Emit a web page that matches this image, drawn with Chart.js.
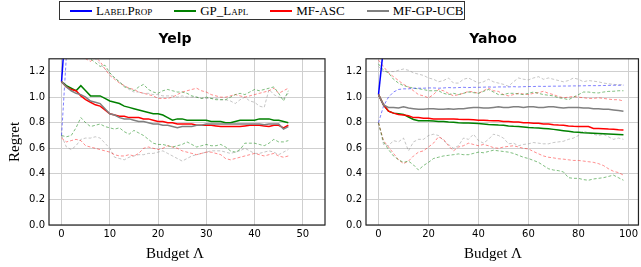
<!DOCTYPE html>
<html>
<head>
<meta charset="utf-8">
<script src="https://cdn.jsdelivr.net/npm/chart.js@4/dist/chart.umd.min.js"></script>
<style>
body{margin:0;background:#fff;width:641px;height:267px;overflow:hidden;position:relative}
canvas{position:absolute;top:0}
#graficoYelp{left:0}
#graficoYahoo{left:345px}
#legenda{position:absolute;left:59px;top:1px;width:406px;height:19px;box-sizing:border-box;border:1px solid #333;display:flex;align-items:center;padding-left:10px;font:13px 'Liberation Serif',serif;font-variant:small-caps;color:#000;background:#fff;z-index:2;white-space:nowrap}
.item{display:flex;align-items:center;flex-shrink:0}
.item i{display:inline-block;width:22px;height:2px;margin-right:4px}
</style>
</head>
<body>
<div id="legenda"></div>
<canvas id="graficoYelp" width="350" height="267"></canvas>
<canvas id="graficoYahoo" width="296" height="267"></canvas>
<script>

// metodos e cores
let metodos=['LabelProp','GP_Lapl','MF-ASC','MF-GP-UCB']
let coresLinha=['#0000ff','#008000','#ff0000','#808080']
let coresFaixa=['rgba(0,0,255,.5)','rgba(0,128,0,.5)','rgba(255,0,0,.45)','rgba(128,128,128,.45)']

// Yelp
let yelpBudget=[0,1,2,3,4,5,6,7,8,9,10,11,12,13,14,15,16,17,18,19,20,21,22,23,24,25,26,27,28,29,30,31,32,33,34,35,36,37,38,39,40,41,42,43,44,45,46,47]
let yelpLpBudget=[0,1]
let yelpLpMean=[1.12,1.65]
let yelpLpLow=[0.70,1.32]

let yelpGpMean=[1.12,1.09,1.07,1.05,1.09,1.05,1.01,1.01,1.01,0.99,0.97,0.96,0.95,0.93,0.92,0.91,0.90,0.89,0.88,0.87,0.87,0.86,0.84,0.82,0.83,0.83,0.82,0.82,0.82,0.82,0.82,0.81,0.81,0.81,0.80,0.80,0.81,0.82,0.82,0.82,0.82,0.83,0.83,0.83,0.82,0.82,0.81,0.80]
let yelpGpHigh=[1.54,1.50,1.48,1.42,1.45,1.38,1.30,1.27,1.24,1.25,1.19,1.15,1.12,1.08,1.07,1.05,1.08,1.10,1.06,1.04,1.03,1.05,1.06,1.05,1.04,1.04,1.03,1.01,1.00,0.99,1.00,0.99,0.98,0.98,0.98,1.00,1.02,1.03,1.02,1.04,1.06,1.05,1.06,1.07,1.08,1.03,0.97,1.05]
let yelpGpLow=[0.70,0.69,0.70,0.76,0.84,0.80,0.77,0.78,0.79,0.77,0.76,0.75,0.76,0.73,0.71,0.74,0.72,0.70,0.67,0.64,0.63,0.63,0.62,0.61,0.62,0.63,0.65,0.63,0.61,0.62,0.63,0.62,0.62,0.63,0.61,0.58,0.57,0.59,0.64,0.64,0.64,0.63,0.62,0.64,0.67,0.65,0.65,0.66]

let yelpAscMean=[1.12,1.08,1.06,1.05,1.01,0.98,0.96,0.94,0.93,0.90,0.87,0.86,0.85,0.85,0.84,0.84,0.84,0.83,0.83,0.82,0.81,0.81,0.80,0.80,0.79,0.79,0.79,0.79,0.78,0.78,0.78,0.78,0.775,0.77,0.77,0.77,0.77,0.77,0.775,0.78,0.78,0.78,0.775,0.77,0.78,0.78,0.76,0.78]
let yelpAscHigh=[1.55,1.50,1.45,1.42,1.38,1.30,1.28,1.31,1.28,1.22,1.17,1.14,1.11,1.09,1.07,1.06,1.04,1.03,1.02,1.01,0.99,0.99,0.99,1.00,1.02,1.04,1.05,1.06,1.07,1.05,1.04,1.02,1.01,1.00,1.00,1.01,1.02,1.01,1.00,1.01,1.02,1.03,1.04,1.05,1.07,1.03,1.05,1.07]
let yelpAscLow=[0.68,0.65,0.66,0.67,0.66,0.62,0.61,0.60,0.59,0.58,0.57,0.55,0.54,0.54,0.55,0.54,0.56,0.60,0.61,0.60,0.59,0.60,0.62,0.61,0.60,0.58,0.57,0.56,0.55,0.56,0.57,0.57,0.56,0.55,0.52,0.51,0.52,0.53,0.54,0.55,0.56,0.55,0.54,0.55,0.56,0.54,0.53,0.54]

let yelpUcbMean=[1.12,1.08,1.05,1.03,1.02,1.00,0.97,0.96,0.95,0.91,0.87,0.86,0.84,0.83,0.83,0.82,0.81,0.81,0.80,0.79,0.79,0.78,0.78,0.77,0.76,0.77,0.77,0.77,0.78,0.78,0.79,0.79,0.79,0.79,0.79,0.79,0.79,0.79,0.79,0.79,0.79,0.79,0.785,0.79,0.79,0.79,0.75,0.77]
let yelpUcbHigh=[1.54,1.50,1.46,1.42,1.40,1.38,1.35,1.30,1.26,1.22,1.19,1.15,1.12,1.09,1.06,1.04,1.04,1.03,1.03,1.02,1.02,1.01,1.01,1.01,1.00,1.01,1.00,1.00,1.00,0.99,0.99,0.99,0.99,0.98,0.98,0.97,0.95,0.98,1.00,0.97,0.96,0.93,0.92,1.06,1.02,1.00,0.99,1.03]
let yelpUcbLow=[0.70,0.61,0.59,0.62,0.67,0.68,0.68,0.69,0.68,0.64,0.60,0.53,0.52,0.51,0.53,0.54,0.55,0.55,0.56,0.56,0.57,0.58,0.56,0.54,0.52,0.50,0.52,0.54,0.55,0.56,0.57,0.58,0.58,0.58,0.57,0.56,0.57,0.58,0.60,0.58,0.56,0.56,0.57,0.58,0.57,0.55,0.57,0.59]

// Yahoo
let yahooBudget=[0,2,4,6,8,10,12,14,16,18,20,22,24,26,28,30,32,34,36,38,40,42,44,46,48,50,52,54,56,58,60,62,64,66,68,70,72,74,76,78,80,82,84,86,88,90,92,94,96,98]
let yahooLpBudget=[0,2]
let yahooLpMean=[1.02,1.39]
let yahooLpLow=[0.80,0.93,1.00,1.04,1.06,1.065,1.065,1.07,1.07,1.07,1.072,1.072,1.07,1.072,1.075,1.073,1.075,1.077,1.075,1.077,1.077,1.078,1.08,1.078,1.08,1.08,1.08,1.082,1.08,1.082,1.083,1.083,1.085,1.084,1.085,1.086,1.086,1.087,1.087,1.088,1.088,1.089,1.09,1.09,1.09,1.091,1.092,1.093,1.093,1.094]

let yahooGpMean=[1.02,0.94,0.89,0.875,0.87,0.865,0.845,0.825,0.815,0.815,0.815,0.813,0.81,0.81,0.805,0.803,0.80,0.798,0.797,0.795,0.793,0.79,0.787,0.785,0.782,0.78,0.775,0.772,0.77,0.767,0.763,0.76,0.758,0.755,0.752,0.748,0.743,0.738,0.733,0.728,0.725,0.722,0.72,0.718,0.716,0.714,0.712,0.71,0.708,0.705]
let yahooGpHigh=[1.26,1.21,1.19,1.14,1.11,1.09,1.08,1.07,1.065,1.06,1.05,1.05,1.05,1.03,1.02,1.03,1.02,1.03,1.04,1.035,1.03,1.045,1.06,1.04,1.02,1.02,1.03,1.03,1.025,1.02,1.03,1.04,1.03,1.02,1.015,1.01,0.995,0.99,0.98,1.00,1.02,1.04,1.04,1.035,1.033,1.04,1.045,1.046,1.05,1.05]
let yahooGpLow=[0.80,0.65,0.59,0.54,0.51,0.49,0.50,0.47,0.43,0.465,0.49,0.52,0.53,0.54,0.545,0.55,0.556,0.55,0.55,0.56,0.57,0.565,0.575,0.585,0.58,0.575,0.57,0.56,0.545,0.53,0.52,0.505,0.49,0.465,0.44,0.43,0.425,0.415,0.37,0.365,0.365,0.355,0.35,0.36,0.365,0.37,0.38,0.39,0.37,0.35]

let yahooAscMean=[1.02,0.94,0.89,0.875,0.865,0.86,0.855,0.84,0.84,0.835,0.835,0.83,0.83,0.83,0.83,0.83,0.827,0.825,0.825,0.823,0.82,0.82,0.817,0.815,0.815,0.81,0.81,0.805,0.805,0.80,0.80,0.795,0.795,0.79,0.79,0.785,0.782,0.78,0.775,0.772,0.77,0.77,0.77,0.755,0.755,0.753,0.75,0.748,0.745,0.743]
let yahooAscHigh=[1.29,1.24,1.19,1.16,1.13,1.10,1.08,1.05,1.02,1.01,0.995,1.02,1.06,1.05,1.03,1.01,1.02,1.03,1.046,1.04,1.03,1.05,1.07,1.05,1.045,1.02,1.01,1.02,1.03,1.025,1.02,1.03,1.035,1.046,1.03,1.02,1.005,0.995,1.00,1.005,1.00,0.995,0.99,0.99,0.995,0.99,0.985,0.98,0.98,0.97]
let yahooAscLow=[0.80,0.66,0.61,0.56,0.51,0.48,0.50,0.54,0.57,0.58,0.61,0.64,0.69,0.67,0.62,0.58,0.61,0.62,0.64,0.63,0.62,0.63,0.62,0.605,0.60,0.61,0.615,0.62,0.61,0.60,0.595,0.575,0.557,0.54,0.53,0.525,0.518,0.515,0.51,0.505,0.505,0.50,0.495,0.49,0.48,0.465,0.44,0.42,0.41,0.39]

let yahooUcbMean=[1.02,0.94,0.92,0.92,0.915,0.925,0.915,0.91,0.905,0.905,0.91,0.91,0.905,0.905,0.91,0.905,0.91,0.91,0.915,0.92,0.92,0.915,0.915,0.92,0.925,0.92,0.92,0.925,0.925,0.92,0.925,0.925,0.92,0.92,0.925,0.925,0.92,0.915,0.92,0.92,0.92,0.915,0.915,0.91,0.91,0.905,0.905,0.90,0.895,0.89]
let yahooUcbHigh=[1.24,1.20,1.20,1.20,1.21,1.22,1.21,1.19,1.18,1.17,1.15,1.14,1.12,1.13,1.15,1.11,1.11,1.14,1.15,1.13,1.11,1.12,1.14,1.12,1.11,1.10,1.085,1.12,1.15,1.14,1.135,1.15,1.16,1.14,1.15,1.14,1.13,1.12,1.13,1.15,1.14,1.12,1.13,1.125,1.12,1.11,1.105,1.10,1.097,1.097]
let yahooUcbLow=[0.80,0.63,0.62,0.66,0.65,0.68,0.58,0.65,0.67,0.67,0.70,0.71,0.70,0.66,0.63,0.60,0.62,0.68,0.67,0.71,0.66,0.64,0.67,0.71,0.70,0.68,0.635,0.64,0.62,0.63,0.635,0.645,0.64,0.635,0.635,0.645,0.65,0.655,0.67,0.68,0.70,0.735,0.72,0.71,0.70,0.71,0.69,0.67,0.68,0.67]

function pontos(xs,ys){
return ys.map((y,i)=>({x:xs[i],y:y}))
}

function media(xs,ys,k){
return{data:pontos(xs,ys),borderColor:coresLinha[k],borderWidth:1.5,pointRadius:0,fill:false}
}

function faixa(xs,ys,k){
return{data:pontos(xs,ys),borderColor:coresFaixa[k],borderWidth:1,borderDash:[3,2],pointRadius:0,fill:false}
}

// moldura do grafico (eixos em volta)
let moldura={
id:'moldura',
afterDatasetsDraw(c){
let a=c.chartArea
let ctx=c.ctx
ctx.save()
ctx.strokeStyle='#222'
ctx.lineWidth=1.2
ctx.strokeRect(a.left,a.top,a.right-a.left,a.bottom-a.top)
ctx.restore()
}
}

function grafico(id,titulo,xMin,xMax,passo,larguraY,larguraDir,tituloY,datasets){

let fonteTick={family:'DejaVu Sans',size:10}

let escalas={
x:{
type:'linear',
min:xMin,
max:xMax,
ticks:{stepSize:passo,includeBounds:false,font:fonteTick,color:'#000',padding:3,maxRotation:0},
grid:{color:'#cfcfcf',drawTicks:false},
border:{display:false}
},
y:{
min:0,
max:1.3,
ticks:{stepSize:0.2,includeBounds:false,font:fonteTick,color:'#000',padding:4,callback:v=>v.toFixed(1)},
grid:{color:'#cfcfcf',drawTicks:false},
border:{display:false},
title:{display:tituloY,text:'Regret',color:'#000',font:{family:'Liberation Serif',size:15},padding:{top:6}},
afterFit(s){s.width=larguraY}
}
}

// eixo vazio na direita so para reservar espaco
if(larguraDir>0){
escalas.yDir={
position:'right',
ticks:{display:false},
grid:{display:false},
border:{display:false},
afterFit(s){s.width=larguraDir}
}
}

return new Chart(document.getElementById(id),{
type:'line',
data:{datasets:datasets},
options:{
responsive:false,
animation:false,
layout:{padding:0},
plugins:{
legend:{display:false},
tooltip:{enabled:false},
title:{
display:true,
text:titulo,
color:'#000',
font:{family:'DejaVu Sans',size:14,weight:'bold'},
padding:{top:31,bottom:11}
},
subtitle:{
display:true,
position:'bottom',
text:'Budget Λ',
color:'#000',
font:{family:'Liberation Serif',size:15},
padding:{top:2,bottom:4}
}
},
scales:escalas
},
plugins:[moldura]
})

}

let setsYelp=[
media(yelpBudget,yelpUcbMean,3),
media(yelpBudget,yelpAscMean,2),
media(yelpBudget,yelpGpMean,1),
media(yelpLpBudget,yelpLpMean,0),
faixa(yelpLpBudget,yelpLpLow,0),
faixa(yelpBudget,yelpGpHigh,1),
faixa(yelpBudget,yelpGpLow,1),
faixa(yelpBudget,yelpAscHigh,2),
faixa(yelpBudget,yelpAscLow,2),
faixa(yelpBudget,yelpUcbHigh,3),
faixa(yelpBudget,yelpUcbLow,3)
]

let setsYahoo=[
media(yahooBudget,yahooUcbMean,3),
media(yahooBudget,yahooAscMean,2),
media(yahooBudget,yahooGpMean,1),
media(yahooLpBudget,yahooLpMean,0),
faixa(yahooBudget,yahooLpLow,0),
faixa(yahooBudget,yahooGpHigh,1),
faixa(yahooBudget,yahooGpLow,1),
faixa(yahooBudget,yahooAscHigh,2),
faixa(yahooBudget,yahooAscLow,2),
faixa(yahooBudget,yahooUcbHigh,3),
faixa(yahooBudget,yahooUcbLow,3)
]

grafico('graficoYelp','Yelp',-2.6,54.6,10,49,25,true,setsYelp)
grafico('graficoYahoo','Yahoo',-5,104,20,21,0,false,setsYahoo)

// legenda em cima dos dois graficos
let html=''
metodos.forEach((m,k)=>{
html+=`<span class="item" style="margin-right:${k<3?22:0}px"><i style="background:${coresLinha[k]}"></i>${m}</span>`
})
document.getElementById('legenda').innerHTML=html

</script>
</body>
</html>
